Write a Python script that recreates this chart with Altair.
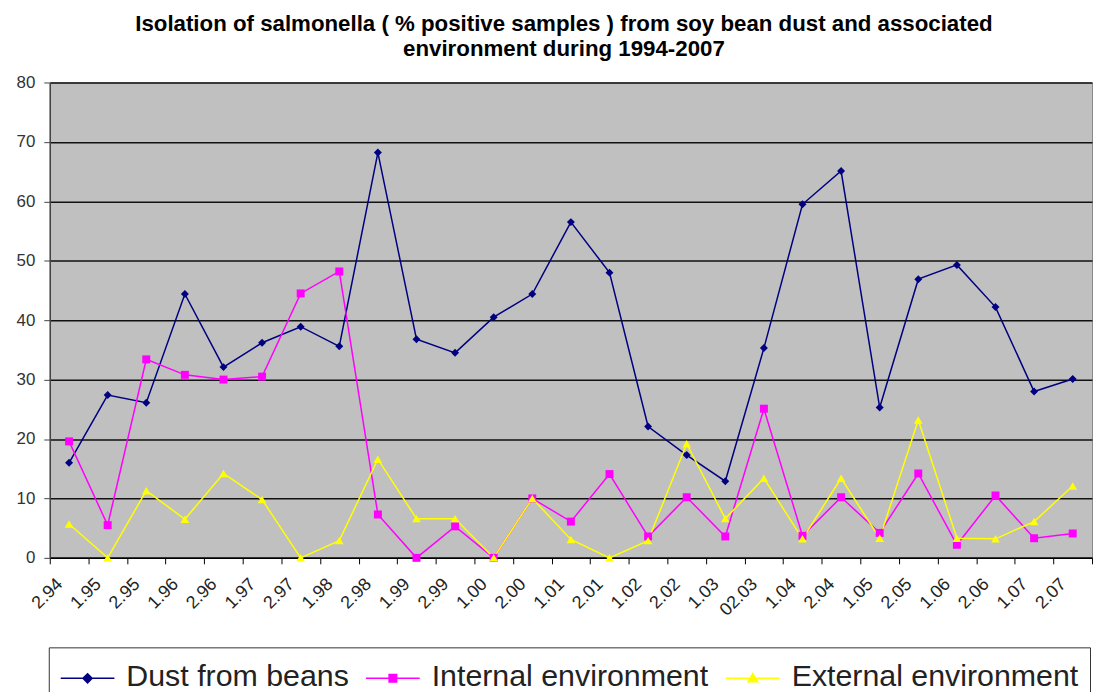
import altair as alt
import pandas as pd

categories = ["2.94", "1.95", "2.95", "1.96", "2.96", "1.97", "2.97", "1.98", "2.98",
              "1.99", "2.99", "1.00", "2.00", "1.01", "2.01", "1.02", "2.02", "1.03",
              "02.03", "1.04", "2.04", "1.05", "2.05", "1.06", "2.06", "1.07", "2.07"]
dust = [16, 27.4, 26.1, 44.4, 32.1, 36.2, 38.9, 35.6, 68.2,
        36.8, 34.5, 40.5, 44.4, 56.5, 48.0, 22.1, 17.3, 12.9,
        35.3, 59.5, 65.1, 25.3, 46.9, 49.3, 42.2, 28.0, 30.1]
internal = [19.6, 5.5, 33.4, 30.8, 30.0, 30.5, 44.5, 48.2, 7.3,
            0, 5.3, 0, 10, 6.1, 14.1, 3.6, 10.2, 3.6,
            25.1, 3.7, 10.2, 4.2, 14.2, 2.2, 10.5, 3.3, 4.1]
external = [5.7, 0, 11.3, 6.5, 14.2, 9.8, 0, 2.9, 16.6,
            6.6, 6.6, 0, 10, 3.1, 0, 2.9, 19.2, 6.6,
            13.4, 3.2, 13.4, 3.3, 23.2, 3.3, 3.2, 6.1, 12.1]
series_names = ["Dust from beans", "Internal environment", "External environment"]
series_colors = ["#000080", "#FF00FF", "#FFFF00"]
point_shapes = ["diamond", "square", "triangle-up"]
legend_paths = [
    "M-1,-0.3L1,-0.3M0,-0.47L0.17,-0.3L0,-0.13L-0.17,-0.3Z",
    "M-1,-0.3L1,-0.3M-0.14,-0.44L0.14,-0.44L0.14,-0.16L-0.14,-0.16Z",
    "M-1,-0.3L1,-0.3M0,-0.48L0.18,-0.17L-0.18,-0.17Z",
]
title_lines = ["Isolation of salmonella ( % positive samples ) from soy bean dust and associated",
               "environment during 1994-2007"]

rows = []
for name, vals in zip(series_names, [dust, internal, external]):
    for c, v in zip(categories, vals):
        rows.append({"cat": c, "series": name, "value": v})
df = pd.DataFrame(rows)

FONT = "Liberation Sans"

x_enc = alt.X(
    "cat:N", sort=categories,
    scale=alt.Scale(type="band", paddingInner=0, paddingOuter=0),
    axis=alt.Axis(title=None, labelAngle=-45, tickBand="extent", tickSize=6,
                  tickColor="#000", domainColor="#000", domainWidth=1.5,
                  labelFont=FONT, labelFontSize=18, labelColor="#222",
                  labelPadding=11, labelOffset=-16, labelOverlap=False),
)
y_enc = alt.Y(
    "value:Q",
    scale=alt.Scale(domain=[0, 80], nice=False),
    axis=alt.Axis(title=None, values=list(range(0, 81, 10)), grid=True,
                  gridColor="#111", gridWidth=1.5, domainColor="#444",
                  domainWidth=1.5, tickColor="#444", tickSize=6,
                  labelFont=FONT, labelFontSize=17, labelColor="#333",
                  labelPadding=9),
)
color_scale = alt.Scale(domain=series_names, range=series_colors)

base = alt.Chart(df)

lines = base.mark_line(strokeWidth=1.5).encode(
    x=x_enc, y=y_enc,
    color=alt.Color("series:N", scale=color_scale, legend=None),
    detail="series:N",
)

point_layers = []
for name, col, shp in zip(series_names, series_colors, point_shapes):
    point_layers.append(
        base.transform_filter(alt.datum.series == name)
        .mark_point(shape=shp, filled=True, size=64 if shp != "triangle-up" else 75,
                    color=col, opacity=1)
        .encode(x=x_enc, y=y_enc)
    )

leg = alt.Legend(title=None, orient="none", legendX=-1, legendY=568,
                 direction="horizontal", labelFont=FONT, labelFontSize=30.5,
                 labelColor="#222", labelOffset=11, columnPadding=14,
                 labelBaseline="alphabetic",
                 padding=11, strokeColor="#333",
                 symbolSize=2916, symbolStrokeWidth=1.5, symbolOpacity=1,
                 labelLimit=1000)

legend_layer = base.mark_point(filled=True, size=2916, strokeWidth=1.5).encode(
    x=x_enc, y=y_enc,
    opacity=alt.value(0),
    fill=alt.Fill("series:N", scale=alt.Scale(domain=series_names, range=series_colors), legend=leg),
    stroke=alt.Stroke("series:N", scale=alt.Scale(domain=series_names, range=series_colors), legend=leg),
    shape=alt.Shape("series:N", scale=alt.Scale(domain=series_names, range=legend_paths), legend=leg),
)

chart = alt.layer(legend_layer, lines, *point_layers).properties(
    width=1048, height=478,
    background="white",
    autosize=alt.AutoSizeParams(type="none"),
    padding={"left": 42, "top": 73, "right": 1, "bottom": 133},
    title=alt.TitleParams(title_lines, font=FONT, fontSize=22.4, fontWeight="bold",
                          color="#000", lineHeight=25, anchor="middle", offset=13, dx=-7),
).configure_view(fill="#C0C0C0", stroke="#888", strokeWidth=1)

chart.save("out.html", embed_options={"renderer": "svg", "actions": False})
